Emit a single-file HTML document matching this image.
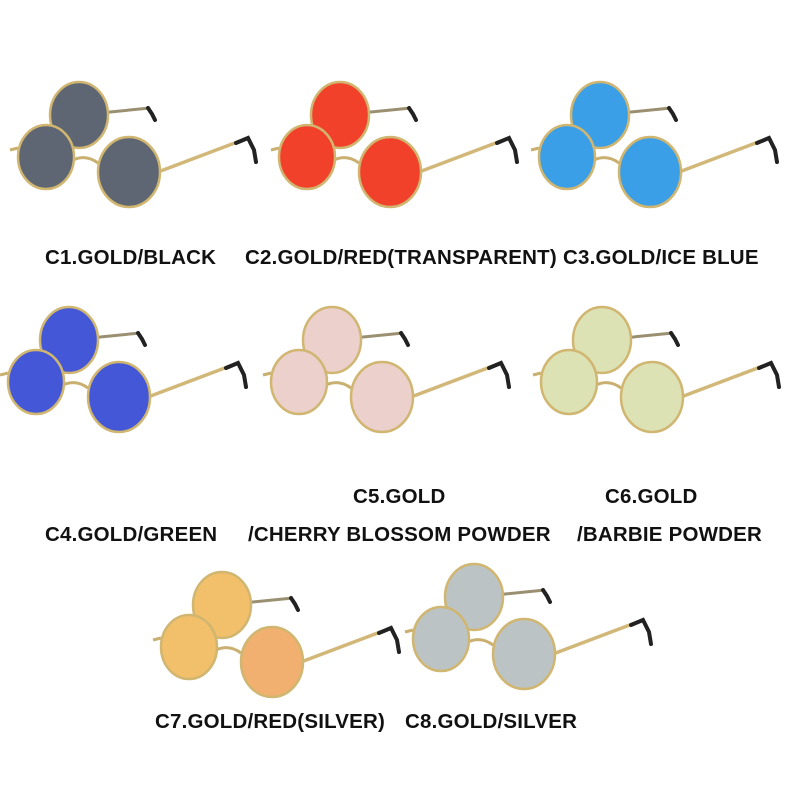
<!DOCTYPE html>
<html><head><meta charset="utf-8"><style>
html,body{margin:0;padding:0;background:#fff;}
body{width:800px;height:800px;position:relative;overflow:hidden;font-family:"Liberation Sans",sans-serif;}
.t{position:absolute;font-weight:bold;font-size:20.5px;color:#111;white-space:nowrap;letter-spacing:0.2px;}
svg{position:absolute;left:0;top:0;}
</style></head><body>
<svg width="800" height="800" viewBox="0 0 800 800">
<defs>
<g id="frame">
  <path d="M100 113 L150 108" stroke="#9a8f70" stroke-width="3" fill="none"/>
  <path d="M148 108 L152 114 L155 120" stroke="#222" stroke-width="4" fill="none" stroke-linecap="round"/>
  <path d="M158 172 L240 141" stroke="#d2b878" stroke-width="3.5" fill="none"/>
  <path d="M236 143 L248 138 L254 150 L256 162" stroke="#222" stroke-width="4" fill="none" stroke-linecap="round"/>
  <path d="M10 150 L18 148" stroke="#c9b070" stroke-width="3" fill="none"/>
  <path d="M73 160 Q86 154 98 163" stroke="#c9b070" stroke-width="3" fill="none"/>
</g>
</defs>
<g transform="translate(0,0)">
 <use href="#frame"/>
 <ellipse cx="79" cy="115" rx="29" ry="33" fill="#5d6672" stroke="#d0b670" stroke-width="2.5"/>
 <ellipse cx="46" cy="157" rx="28" ry="32" fill="#5d6672" stroke="#d0b670" stroke-width="2.5"/>
 <ellipse cx="129" cy="172" rx="31" ry="35" fill="#5d6672" stroke="#d0b670" stroke-width="2.5"/>
</g>
<g transform="translate(261,0)">
 <use href="#frame"/>
 <ellipse cx="79" cy="115" rx="29" ry="33" fill="#f2412a" stroke="#d0b670" stroke-width="2.5"/>
 <ellipse cx="46" cy="157" rx="28" ry="32" fill="#f2412a" stroke="#d0b670" stroke-width="2.5"/>
 <ellipse cx="129" cy="172" rx="31" ry="35" fill="#f2412a" stroke="#d0b670" stroke-width="2.5"/>
</g>
<g transform="translate(521,0)">
 <use href="#frame"/>
 <ellipse cx="79" cy="115" rx="29" ry="33" fill="#3a9fe6" stroke="#d0b670" stroke-width="2.5"/>
 <ellipse cx="46" cy="157" rx="28" ry="32" fill="#3a9fe6" stroke="#d0b670" stroke-width="2.5"/>
 <ellipse cx="129" cy="172" rx="31" ry="35" fill="#3a9fe6" stroke="#d0b670" stroke-width="2.5"/>
</g>
<g transform="translate(-10,225)">
 <use href="#frame"/>
 <ellipse cx="79" cy="115" rx="29" ry="33" fill="#4457d6" stroke="#d0b670" stroke-width="2.5"/>
 <ellipse cx="46" cy="157" rx="28" ry="32" fill="#4457d6" stroke="#d0b670" stroke-width="2.5"/>
 <ellipse cx="129" cy="172" rx="31" ry="35" fill="#4457d6" stroke="#d0b670" stroke-width="2.5"/>
</g>
<g transform="translate(253,225)">
 <use href="#frame"/>
 <ellipse cx="79" cy="115" rx="29" ry="33" fill="#ecd0cc" stroke="#d0b670" stroke-width="2.5"/>
 <ellipse cx="46" cy="157" rx="28" ry="32" fill="#ecd0cc" stroke="#d0b670" stroke-width="2.5"/>
 <ellipse cx="129" cy="172" rx="31" ry="35" fill="#ecd0cc" stroke="#d0b670" stroke-width="2.5"/>
</g>
<g transform="translate(523,225)">
 <use href="#frame"/>
 <ellipse cx="79" cy="115" rx="29" ry="33" fill="#dde2b4" stroke="#d0b670" stroke-width="2.5"/>
 <ellipse cx="46" cy="157" rx="28" ry="32" fill="#dde2b4" stroke="#d0b670" stroke-width="2.5"/>
 <ellipse cx="129" cy="172" rx="31" ry="35" fill="#dde2b4" stroke="#d0b670" stroke-width="2.5"/>
</g>
<g transform="translate(143,490)">
 <use href="#frame"/>
 <ellipse cx="79" cy="115" rx="29" ry="33" fill="#f2c06a" stroke="#d0b670" stroke-width="2.5"/>
 <ellipse cx="46" cy="157" rx="28" ry="32" fill="#f2c06a" stroke="#d0b670" stroke-width="2.5"/>
 <ellipse cx="129" cy="172" rx="31" ry="35" fill="#f2b070" stroke="#d0b670" stroke-width="2.5"/>
</g>
<g transform="translate(395,482)">
 <use href="#frame"/>
 <ellipse cx="79" cy="115" rx="29" ry="33" fill="#bcc3c4" stroke="#d0b670" stroke-width="2.5"/>
 <ellipse cx="46" cy="157" rx="28" ry="32" fill="#bcc3c4" stroke="#d0b670" stroke-width="2.5"/>
 <ellipse cx="129" cy="172" rx="31" ry="35" fill="#bcc3c4" stroke="#d0b670" stroke-width="2.5"/>
</g>
</svg>
<div class="t" style="left:45px;top:246px;">C1.GOLD/BLACK</div>
<div class="t" style="left:245px;top:246px;">C2.GOLD/RED(TRANSPARENT)</div>
<div class="t" style="left:563px;top:246px;">C3.GOLD/ICE BLUE</div>
<div class="t" style="left:45px;top:523px;">C4.GOLD/GREEN</div>
<div class="t" style="left:353px;top:485px;">C5.GOLD</div>
<div class="t" style="left:248px;top:523px;">/CHERRY BLOSSOM POWDER</div>
<div class="t" style="left:605px;top:485px;">C6.GOLD</div>
<div class="t" style="left:577px;top:523px;">/BARBIE POWDER</div>
<div class="t" style="left:155px;top:710px;">C7.GOLD/RED(SILVER)</div>
<div class="t" style="left:405px;top:710px;">C8.GOLD/SILVER</div>
</body></html>
